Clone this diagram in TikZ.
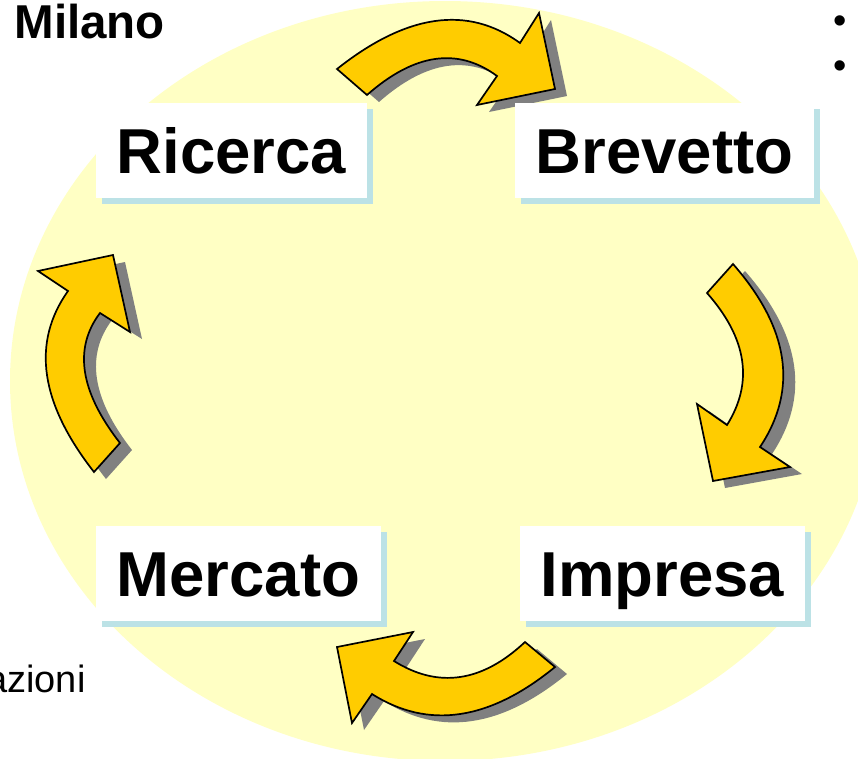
\documentclass[tikz,border=0pt]{standalone}
\usepackage{fontspec}
\setmainfont{Liberation Sans}
\usetikzlibrary{positioning, shadows}
\definecolor{backyellow}{HTML}{FFFFC4}
\definecolor{arrowyellow}{HTML}{FFCC00}
\definecolor{arrowshade}{HTML}{808080}
\definecolor{boxshade}{HTML}{BCE2E6}
\newcommand{\stagefont}{\bfseries\fontsize{63.5}{76}\selectfont}
\tikzset{
    cyclediagram/.style={x=1pt, y=-1pt},
    backdrop/.style={fill=backyellow},
    stage/.style={fill=white, font=\stagefont, inner xsep=21pt, inner ysep=0pt,
        minimum height=95pt, text height=45pt, text depth=0pt,
        drop shadow={shadow xshift=6pt, shadow yshift=-6pt, fill=boxshade, opacity=1}},
    bentarrow/.style={fill=arrowyellow, draw=black, line width=1.7pt,
        drop shadow={shadow xshift=12pt, shadow yshift=-7pt, fill=arrowshade, opacity=1}},
    caption/.style={font=\bfseries\fontsize{47.5}{57}\selectfont},
    aside/.style={font=\fontsize{38}{46}\selectfont},
}

\begin{document}
\begin{tikzpicture}[cyclediagram]
    \useasboundingbox (0,0) rectangle (858,758);
    % yellow backdrop
    \fill[backdrop] (445,381) ellipse [x radius=435pt, y radius=380pt];

    % bent arrows, clockwise from the top
    \draw[bentarrow] (337,69) .. controls (406.7,13.7) and (467.7,5) .. (520,43)
        -- (539,13) -- (555,89) -- (477,105) -- (497,76)
        .. controls (457.7,47) and (414.3,53.3) .. (367,95) -- cycle;
    \draw[bentarrow] (733,264) .. controls (789.3,328.3) and (798.3,389.3) .. (760,447)
        -- (790,467) -- (713,481) -- (697,404) -- (727,425)
        .. controls (753.7,382.3) and (747,338.3) .. (707,293) -- cycle;
    \draw[bentarrow] (555,667) .. controls (489.3,720.7) and (428.3,729.7) .. (372,694)
        -- (352,723) -- (337,647) -- (413,632) -- (394,661)
        .. controls (438.3,688.7) and (482,682.3) .. (525,642) -- cycle;
    \draw[bentarrow] (94,472) .. controls (40,403) and (31.3,342.7) .. (68,291)
        -- (38,271) -- (113,255) -- (130,332) -- (100,313)
        .. controls (73.3,348.3) and (80,391.7) .. (120,443) -- cycle;

    % stages
    \node[stage]                       (ricerca)  at (231.5,150.5) {Ricerca};
    \node[stage, right=147pt of ricerca] (brevetto)              {Brevetto};
    \node[stage]                       (mercato)  at (238.5,573.5) {Mercato};
    \node[stage, right=138pt of mercato] (impresa)               {Impresa};

    % texts cut off at the edges
    \node[caption, anchor=base west] (milano) at (11,38) {Milano};
    \node[aside, anchor=base east] (azioni) at (89,692) {azioni};
    \foreach \y [count=\i] in {33,78}
        \node[aside, anchor=base] (dot\i) at (840,\y) {•};
\end{tikzpicture}
\end{document}
